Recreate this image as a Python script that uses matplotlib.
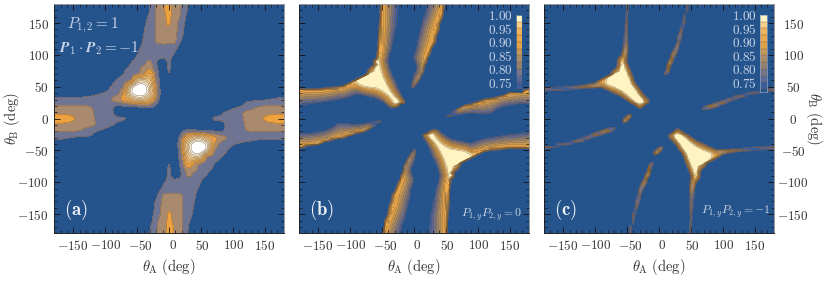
import numpy as np
import matplotlib
matplotlib.use('Agg')
import matplotlib.pyplot as plt
from matplotlib.cm import ScalarMappable
from matplotlib.colors import BoundaryNorm, ListedColormap
from matplotlib.transforms import ScaledTranslation

plt.rcParams['mathtext.fontset'] = 'cm'
plt.rcParams['font.family'] = ['cmr10', 'DejaVu Sans']
plt.rcParams['axes.formatter.use_mathtext'] = True

# values, upper half only (theta_B >= 0); lower half is the point mirror
# panel (a): 10 deg grid, arbitrary scale in %, background 10
ROWS_A = {
    180: {-30: 21, -20: 31, -10: 36, 0: 45, 10: 32, 20: 30, 30: 20},
    170: {-40: 12, -30: 20.5, -20: 31, -10: 37, 0: 44, 10: 33, 20: 29, 30: 19},
    160: {-40: 16, -30: 22, -20: 31, -10: 36, 0: 42, 10: 33, 20: 28, 30: 15},
    150: {-40: 18, -30: 23, -20: 31, -10: 36, 0: 41, 10: 32, 20: 26, 30: 13},
    140: {-50: 12, -40: 19, -30: 24, -20: 30.5, -10: 35, 0: 38, 10: 32, 20: 24},
    130: {-50: 14, -40: 20, -30: 25, -20: 30.5, -10: 33, 0: 35, 10: 31, 20: 22},
    120: {-50: 15, -40: 21, -30: 25, -20: 30, -10: 31, 0: 31, 10: 30, 20: 17},
    110: {-60: 12, -50: 18, -40: 22, -30: 24, -20: 26, -10: 27, 0: 26, 10: 22, 20: 12},
    100: {-60: 15, -50: 20, -40: 23, -30: 25, -20: 25, -10: 24, 0: 23, 10: 18},
    90: {-70: 12, -60: 19, -50: 22, -40: 26, -30: 31, -20: 21, -10: 16, 0: 21, 10: 14},
    80: {-70: 18, -60: 22, -50: 27, -40: 32, -30: 36, -20: 22, -10: 14, 0: 21, 10: 13},
    70: {-80: 15, -70: 21, -60: 26, -50: 31, -40: 39, -30: 50, -20: 27, -10: 12, 0: 19},
    60: {-90: 16, -80: 22, -70: 27, -60: 32, -50: 70, -40: 76, -30: 66, -20: 30, -10: 13},
    50: {-100: 15, -90: 21, -80: 26, -70: 34, -60: 78, -50: 96, -40: 96, -30: 76, -20: 35, -10: 12},
    40: {-180: 16, -170: 16, -160: 16, -150: 16, -140: 16, -130: 17, -120: 17, -110: 19, -100: 21,
         -90: 24, -80: 28, -70: 44, -60: 84, -50: 96, -40: 96, -30: 76, -20: 38, -10: 12,
         170: 14, 180: 14},
    30: {-180: 22, -170: 22, -160: 22, -150: 22, -140: 22, -130: 23, -120: 24, -110: 25, -100: 26,
         -90: 30, -80: 36, -70: 44, -60: 58, -50: 72, -40: 70, -30: 54, -20: 30,
         110: 14, 120: 18, 130: 18, 140: 18, 150: 19, 160: 21, 170: 22, 180: 22},
    20: {-180: 30, -170: 30, -160: 30, -150: 30, -140: 30, -130: 30, -120: 29, -110: 25, -100: 24,
         -90: 22, -80: 19, -70: 21, -60: 22, -50: 24, -40: 26, -30: 26, -20: 18,
         100: 16, 110: 19, 120: 22, 130: 26, 140: 29, 150: 30, 160: 30, 170: 30, 180: 30},
    10: {-180: 37, -170: 37, -160: 36, -150: 34, -140: 33, -130: 32, -120: 30.5, -110: 26, -100: 24,
         -90: 22, -80: 12,
         80: 16, 90: 21, 100: 24, 110: 27, 120: 31, 130: 32, 140: 33, 150: 34, 160: 36, 170: 37, 180: 37},
    0: {-180: 46, -170: 46, -160: 45, -150: 41, -140: 36, -130: 33, -120: 31, -110: 27, -100: 25,
        -90: 24, -80: 22, -70: 21},
}

# panels (b), (c): percent on a grid that is finer near the centre
ROWS_B = {
    180: {-55: 60, -50: 90, -45: 88, -40: 84, -35: 80, -30: 76, -25: 73, 15: 60, 20: 72, 25: 75, 30: 79, 35: 82, 40: 86, 45: 90, 50: 70},
    170: {-55: 62, -50: 91, -45: 88, -40: 84, -35: 80, -30: 76, -25: 73, 20: 74, 25: 78, 30: 81, 35: 85, 40: 89, 45: 92},
    160: {-55: 63, -50: 92, -45: 88, -40: 84, -35: 79, -30: 75, -25: 72, 15: 72, 20: 76, 25: 80, 30: 84, 35: 88, 40: 91, 45: 80},
    150: {-55: 70, -50: 92, -45: 88, -40: 84, -35: 79, -30: 75, -25: 71, 10: 62, 15: 76, 20: 79, 25: 83, 30: 87, 35: 90, 40: 82},
    140: {-55: 75, -50: 93, -45: 88, -40: 83, -35: 78, -30: 73.5, -25: 62, 10: 72, 15: 78, 20: 82, 25: 86, 30: 90, 35: 92, 40: 75},
    130: {-55: 80, -50: 93, -45: 87, -40: 82, -35: 76, -30: 72, 5: 68, 10: 75, 15: 80, 20: 84, 25: 88, 30: 90, 35: 80},
    120: {-55: 85, -50: 93, -45: 87, -40: 81, -35: 75, -30: 65, 5: 72, 10: 78, 15: 82, 20: 86, 25: 89, 30: 90, 35: 72},
    110: {-55: 90, -50: 92, -45: 86, -40: 79, -35: 73, 5: 74, 10: 80, 15: 85, 20: 88, 25: 90, 30: 65},
    100: {-60: 65, -55: 95, -50: 92, -45: 84, -40: 75, -35: 62, 0: 72, 5: 78, 10: 83, 15: 87, 20: 90, 25: 75},
    95: {-60: 68, -55: 96, -50: 90, -45: 82, -40: 74, 0: 73, 5: 79, 10: 84, 15: 88, 20: 88},
    90: {-60: 99, -55: 98, -50: 90, -45: 80, -40: 71, 0: 68, 5: 77, 10: 83, 15: 87, 20: 80},
    85: {-60: 88, -55: 100, -50: 92, -45: 82, -40: 74, 0: 62, 5: 74, 10: 82, 15: 88, 20: 65},
    80: {-70: 68, -60: 100, -55: 100, -50: 94, -45: 84, -40: 76, -35: 65, 5: 73, 10: 81, 15: 85},
    75: {-70: 85, -60: 100, -55: 100, -50: 96, -45: 87, -40: 78, -35: 70, 0: 65, 5: 76, 10: 83, 15: 80},
    70: {-70: 100, -60: 100, -55: 100, -50: 98, -45: 90, -40: 81, -35: 74, -30: 62, 0: 72, 5: 78, 10: 84, 15: 68},
    65: {-80: 98, -70: 100, -60: 100, -55: 100, -50: 100, -45: 93, -40: 84, -35: 76, -30: 70, 0: 75, 5: 82, 10: 80},
    60: {-90: 98, -80: 100, -70: 100, -60: 100, -55: 100, -50: 100, -45: 97, -40: 88, -35: 80, -30: 74, -25: 62,
         -5: 62, 0: 78, 5: 85, 10: 65},
    55: {-100: 93, -90: 96, -80: 100, -70: 100, -60: 100, -55: 100, -50: 100, -45: 100, -40: 92, -35: 84, -30: 76, -25: 68,
         -5: 68, 0: 82, 5: 75},
    50: {-140: 66, -130: 72, -120: 76, -110: 92, -100: 89, -90: 88, -80: 96, -70: 98, -60: 99, -55: 100, -50: 100,
         -45: 100, -40: 97, -35: 88, -30: 79, -25: 72, -5: 72, 0: 78},
    45: {-180: 92, -170: 91, -160: 91, -150: 91, -140: 90, -130: 89, -120: 88, -110: 87, -100: 83, -90: 80, -80: 87,
         -70: 91, -60: 93, -55: 96, -50: 98, -45: 100, -40: 100, -35: 93, -30: 84, -25: 75, -20: 66,
         -5: 68, 0: 65, 170: 70, 180: 93},
    40: {-180: 88, -170: 87, -160: 87, -150: 87, -140: 86, -130: 85, -120: 83, -110: 82, -100: 78, -90: 75, -80: 78,
         -70: 81, -60: 85, -55: 89, -50: 93, -45: 97, -40: 100, -35: 98, -30: 90, -25: 80, -20: 71,
         150: 85, 160: 90, 170: 88, 180: 89},
    35: {-180: 84, -170: 83, -160: 83, -150: 82, -140: 81, -130: 80, -120: 78, -110: 77, -100: 73.5, -90: 65, -80: 68,
         -70: 73.5, -60: 77, -55: 81, -50: 85, -45: 90, -40: 96, -35: 100, -30: 97, -25: 88, -20: 76, -15: 62,
         130: 72, 140: 89, 150: 87, 160: 85, 170: 84, 180: 84},
    30: {-180: 80, -170: 79, -160: 78, -150: 78, -140: 77, -130: 75, -120: 73.5, -110: 70, -100: 62, -70: 62, -60: 69, -55: 73,
         -50: 77, -45: 83, -40: 90, -35: 97, -30: 100, -25: 98, -20: 86, -15: 72,
         110: 80, 120: 90, 130: 88, 140: 84, 150: 82, 160: 81, 170: 80, 180: 80},
    25: {-180: 76, -170: 75, -160: 74, -150: 73, -140: 70, -130: 68, -120: 62, -50: 68, -45: 75, -40: 83, -35: 92,
         -30: 100, -25: 100, -20: 92, -15: 80,
         90: 65, 100: 90, 110: 89, 120: 86, 130: 83, 140: 79, 150: 77, 160: 76, 170: 75, 180: 75},
    20: {-180: 71, -170: 70, -160: 65, -40: 74, -35: 82, -30: 90, -25: 80,
         80: 88, 90: 90, 100: 85, 110: 84, 120: 82, 130: 78, 140: 74, 150: 72, 160: 68, 170: 65, 180: 66},
    15: {-35: 68, -30: 62, 70: 88, 80: 83, 90: 81, 100: 80, 110: 80, 120: 79, 130: 73},
    10: {60: 74, 70: 80, 80: 76, 90: 75, 100: 75, 110: 76, 120: 75},
    5: {50: 72, 55: 78, 60: 75, 70: 70, 80: 65, 90: 62, 100: 66, 110: 70, 120: 68},
    0: {45: 72, 50: 70, 55: 62},
}

ROWS_C = {
    180: {-50: 76, -45: 70, 40: 62, 45: 76},
    170: {-50: 76, -45: 68, 40: 70, 45: 76},
    160: {-55: 66, -50: 77, 40: 77, 45: 66},
    150: {-55: 68, -50: 78, 35: 70, 40: 78},
    140: {-55: 70, -50: 79, 35: 78, 40: 68},
    130: {-55: 72, -50: 80, 30: 76, 35: 79},
    120: {-55: 74, -50: 80, 30: 80, 35: 68},
    110: {-55: 80, -50: 84, 25: 78, 30: 80},
    100: {-60: 70, -55: 88, -50: 80, 20: 80, 25: 84},
    95: {-60: 85, -55: 94, -50: 76, 20: 86, 25: 70},
    90: {-60: 96, -55: 94, -50: 74, 15: 76, 20: 90},
    85: {-60: 95, -55: 100, -50: 84, 15: 90, 20: 72},
    80: {-70: 62, -60: 100, -55: 100, -50: 90, -45: 68, 15: 92},
    75: {-70: 82, -60: 100, -55: 100, -50: 96, -45: 78, 10: 72, 15: 84},
    70: {-70: 100, -60: 100, -55: 100, -50: 100, -45: 84, -40: 66, 10: 80, 15: 70},
    65: {-80: 97, -70: 100, -60: 100, -55: 100, -50: 100, -45: 94, -40: 72},
    60: {-90: 90, -80: 100, -70: 100, -60: 100, -55: 100, -50: 100, -45: 98, -40: 80},
    55: {-120: 65, -110: 72, -100: 80, -90: 90, -80: 100, -70: 100, -60: 100, -55: 100, -50: 100, -45: 100, -40: 90, -35: 68},
    50: {-180: 70, -170: 71, -160: 72, -150: 74, -140: 76, -130: 79, -120: 82, -110: 86, -100: 84, -90: 80, -80: 92,
         -70: 98, -60: 100, -55: 100, -50: 100, -45: 100, -40: 98, -35: 84, -30: 66, 180: 68},
    45: {-180: 78, -170: 77, -160: 76, -150: 75, -140: 73.5, -130: 70, -120: 66, -80: 78, -70: 90, -60: 98, -55: 100,
         -50: 100, -45: 100, -40: 100, -35: 96, -30: 78, 150: 66, 160: 72, 170: 78, 180: 80},
    40: {-70: 76, -60: 88, -55: 96, -50: 100, -45: 100, -40: 100, -35: 100, -30: 90, -25: 72,
         130: 66, 140: 76, 150: 78, 160: 74, 170: 64},
    35: {-60: 74, -55: 84, -50: 94, -45: 100, -40: 100, -35: 100, -30: 100, -25: 86, -20: 70,
         110: 66, 120: 78, 130: 80, 140: 70},
    30: {-55: 68, -50: 80, -45: 92, -40: 100, -35: 100, -30: 100, -25: 98, -20: 84, -15: 74, 100: 68, 110: 80, 120: 74},
    25: {-45: 74, -40: 88, -35: 98, -30: 100, -25: 100, -20: 88, -15: 72, 90: 76, 100: 84, 110: 70},
    20: {-35: 78, -30: 90, -25: 82, 70: 68, 80: 86, 90: 82, 100: 66},
    15: {-30: 72, 70: 78, 80: 74},
}
# two small islands in (c) have no mirror partner
EXTRA_C = {
    5: {-50: 74, -45: 86},
    0: {-55: 76, -50: 92, -45: 74},
    -5: {-55: 84, -50: 74},
    -45: {0: 74, 5: 80},
    -50: {-5: 76, 0: 90, 5: 72},
    -55: {-10: 72, -5: 88, 0: 72},
}

GRID_A = list(range(-180, 181, 10))
GRID_X = list(range(-180, -60, 10)) + list(range(-60, 60, 5)) + list(range(60, 181, 10))
GRID_Y = list(range(-180, -100, 10)) + list(range(-100, 100, 5)) + list(range(100, 181, 10))

TICKS = [-150, -100, -50, 0, 50, 100, 150]
# the x labels sit a little to the right of their ticks in the reference (px)
XLABEL_SHIFT = [-0.5, 0.5, 3.6, 3.6, 1.7, 0.5, 0]
LEVELS_A = [0, 20, 30, 40, 48, 56, 64, 72, 78, 84, 90, 200]
COLORS_A = ['#25548c', '#6f7492', '#a98a6e', '#eda23f', '#f0ae58', '#f3bd72', '#f6cc8c',
            '#f9dca8', '#fbe9c6', '#fdf5e2', '#ffffff']
LEVELS_P = [0, .725, .75, .775, .80, .825, .85, .875, .90, .925, .95, .975, 2]
COLORS_P = ['#25548c', '#3e5c98', '#5c6896', '#787487', '#94816f', '#ab8c68', '#c69858',
            '#e2a24a', '#eca84c', '#f1b45c', '#f8cf85', '#fff3c2']
CBAR_BOUNDS = [.715, .725, .75, .775, .80, .825, .85, .875, .90, .925, .95, .975, 1.0]
CBAR_TICKS = [.75, .80, .85, .90, .95, 1.0]
LIGHT = '#c9d4e6'


def build(rows, xs, ys, bg, extra=None):
    z = np.full((len(ys), len(xs)), float(bg))
    for b, row in rows.items():
        for a, v in row.items():
            z[ys.index(b), xs.index(a)] = v
    # theta -> -theta symmetry
    z = np.maximum(z, z[::-1, ::-1])
    if extra:
        for b, row in extra.items():
            for a, v in row.items():
                z[ys.index(b), xs.index(a)] = v
    return z


def refine(z, n):
    # Catmull-Rom resampling along both axes, only to round the contour corners
    def along_rows(m):
        m = np.hstack([2 * m[:, :1] - m[:, 1:2], m, 2 * m[:, -1:] - m[:, -2:-1]])
        out = []
        for i in range(1, m.shape[1] - 2):
            for k in range(n):
                t = k / n
                out.append(0.5 * (2 * m[:, i] + (m[:, i + 1] - m[:, i - 1]) * t
                                  + (2 * m[:, i - 1] - 5 * m[:, i] + 4 * m[:, i + 1] - m[:, i + 2]) * t ** 2
                                  + (3 * m[:, i] - m[:, i - 1] - 3 * m[:, i + 1] + m[:, i + 2]) * t ** 3))
        out.append(m[:, -2])
        return np.array(out).T
    return along_rows(along_rows(z).T).T


def setup(ax):
    ax.set_xlim(-180, 180)
    ax.set_ylim(-180, 180)
    ax.set_xticks(TICKS, [f'${t}$' for t in TICKS])
    ax.set_yticks(TICKS, [f'${t}$' for t in TICKS])
    ax.set_xticks(np.arange(-180, 181, 10), minor=True)
    ax.set_yticks(np.arange(-180, 181, 10), minor=True)
    ax.tick_params(which='major', direction='in', length=4, width=0.6, top=True, right=True,
                   labelsize=9.5, pad=4, color='#111111', labelcolor='#333333')
    ax.tick_params(which='minor', direction='in', length=2, width=0.5, top=True, right=True, color='#111111')
    ax.set_xlabel(r'$\theta_{\mathrm{A}}\ (\mathrm{deg})$', fontsize=10.5, color='#333333', labelpad=3)
    for lab, dx in zip(ax.get_xticklabels(), XLABEL_SHIFT):
        lab.set_transform(lab.get_transform() + ScaledTranslation(dx / 100, 0, fig.dpi_scale_trans))
    for s in ['left', 'bottom']:
        ax.spines[s].set_color('#222222')
    for s in ['top', 'right']:
        ax.spines[s].set_color('#999999')
    for s in ax.spines.values():
        s.set_linewidth(0.7)


def colorbar(fig, x0, x1, edge):
    cax = fig.add_axes([x0 / W, 1 - 91.7 / H, (x1 - x0) / W, 76.7 / H])
    norm = BoundaryNorm(CBAR_BOUNDS, len(COLORS_P))
    sm = ScalarMappable(norm=norm, cmap=ListedColormap(COLORS_P))
    cb = fig.colorbar(sm, cax=cax, ticks=CBAR_TICKS, spacing='proportional', drawedges=True)
    cb.ax.yaxis.set_ticks_position('left')
    cb.ax.set_yticklabels([f'${t:.2f}$' for t in CBAR_TICKS])
    cb.ax.tick_params(length=0, pad=2, labelsize=9.5, labelcolor=LIGHT)
    cb.ax.minorticks_off()
    cb.dividers.set_color('#6d5a45')
    cb.dividers.set_linewidth(0.3)
    cb.outline.set_edgecolor(edge)
    cb.outline.set_linewidth(0.5)


W, H = 830, 281
fig = plt.figure(figsize=(W / 100, H / 100), dpi=100)
axes = []
for x0, x1 in [(54.3, 283.7), (299, 528.7), (544, 773.7)]:
    axes.append(fig.add_axes([x0 / W, 1 - 233.3 / H, (x1 - x0) / W, 229.3 / H]))
ax_a, ax_b, ax_c = axes

z_a = refine(build(ROWS_A, GRID_A, GRID_A, 10), 4)
fine_a = np.linspace(-180, 180, z_a.shape[0])
ax_a.contourf(fine_a, fine_a, z_a, levels=LEVELS_A, colors=COLORS_A, extend='min')
ax_a.contour(fine_a, fine_a, z_a, levels=LEVELS_A[1:-1], colors='#7a5c38', linewidths=0.3)

for ax, rows, bg, extra in [(ax_b, ROWS_B, 40, None), (ax_c, ROWS_C, 55, EXTRA_C)]:
    z = build(rows, GRID_X, GRID_Y, bg, extra) / 100
    ax.contourf(GRID_X, GRID_Y, z, levels=LEVELS_P, colors=COLORS_P)
    ax.contour(GRID_X, GRID_Y, z, levels=LEVELS_P[1:-1], colors='#6a5030', linewidths=0.22)

for ax in axes:
    setup(ax)
ax_a.set_ylabel(r'$\theta_{\mathrm{B}}\ (\mathrm{deg})$', fontsize=10.5, color='#333333')
ax_a.yaxis.set_label_coords(-0.14, 0.5)
ax_b.tick_params(axis='y', which='both', labelleft=False)
ax_c.tick_params(axis='y', which='both', labelleft=False, labelright=True, pad=14)
for lab in ax_c.get_yticklabels():
    lab.set_ha('center')
ax_c.yaxis.set_label_position('right')
ax_c.set_ylabel(r'$\theta_{\mathrm{B}}\ (\mathrm{deg})$', fontsize=10.5, color='#333333', rotation=270)
ax_c.yaxis.set_label_coords(1.22, 0.5)

ax_a.text(-160, 147, r'$P_{1,2}=1$', color=LIGHT, fontsize=11, va='center')
ax_a.text(-172, 110, r'$\mathbfit{P}_1\cdot\mathbfit{P}_2=-1$', color=LIGHT, fontsize=11, va='center')
for ax, lab in zip(axes, 'abc'):
    ax.text(-164, -143, rf'$\mathbf{{({lab})}}$', color='#eef2f8', fontsize=13.5, va='center')
ax_b.text(170, -150, r'$P_{1,y}P_{2,y}=0$', color=LIGHT, fontsize=8.5, ha='right', va='center')
ax_c.text(176, -145, r'$P_{1,y}P_{2,y}=-1$', color=LIGHT, fontsize=8.5, ha='right', va='center')

colorbar(fig, 515.7, 522.3, '#25548c')
colorbar(fig, 759.5, 767.3, '#8fa4c4')

fig.savefig('out.png', dpi=100)
